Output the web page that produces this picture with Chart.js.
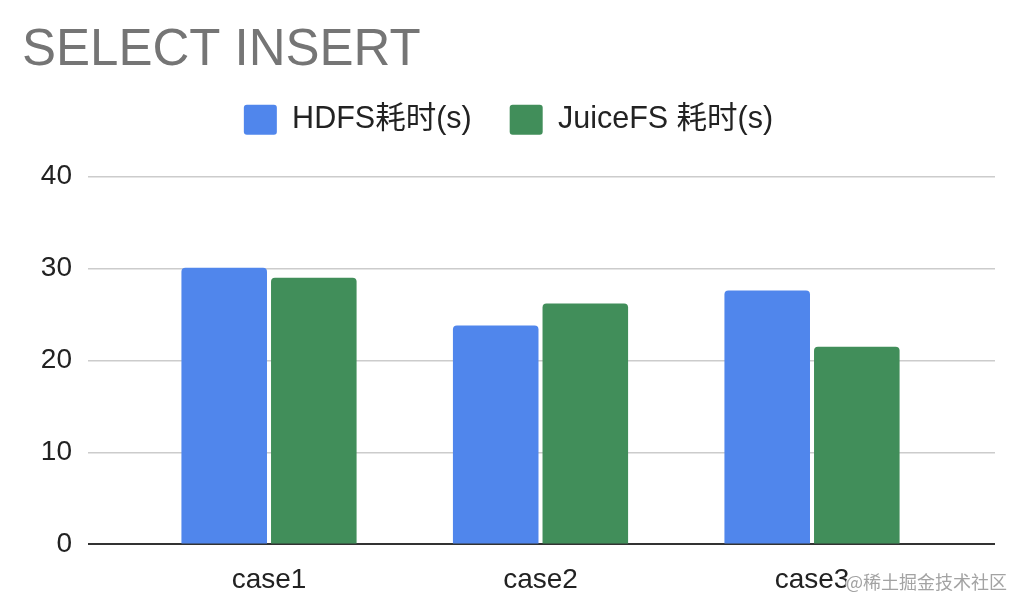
<!DOCTYPE html>
<html>
<head>
<meta charset="utf-8">
<script src="https://cdn.jsdelivr.net/npm/chart.js@4.4.1/dist/chart.umd.min.js"></script>
<style>
  html, body { margin: 0; padding: 0; background: #ffffff; }
  #wrap { width: 1026px; height: 614px; position: relative; }
</style>
</head>
<body>
<div id="wrap"><canvas id="c"></canvas></div>
<script>
const chartTitle = 'SELECT INSERT';
const categories = ['case1', 'case2', 'case3'];
const seriesNames = ['HDFS耗时(s)', 'JuiceFS 耗时(s)'];
const hdfsValues = [30.1, 23.8, 27.6];
const juicefsValues = [29.0, 26.2, 21.5];
const yTicks = [0, 10, 20, 30, 40];
const watermark = '@稀土掘金技术社区';

const FONT = '"Liberation Sans", Arial, "Noto Sans CJK SC", sans-serif';

const toPoints = (vals) => vals.map((v, i) => ({ x: i + 1, y: v }));

const legendSpacer = {
  id: 'legendSpacer',
  beforeInit(chart) {
    const origFit = chart.legend.fit;
    chart.legend.fit = function () {
      origFit.bind(chart.legend)();
      this.height += 31.5;
    };
  }
};

const watermarkPlugin = {
  id: 'watermark',
  afterDraw(chart) {
    const ctx = chart.ctx;
    ctx.save();
    ctx.font = '18px "Noto Sans CJK SC", sans-serif';
    ctx.textAlign = 'right';
    ctx.textBaseline = 'middle';
    ctx.lineWidth = 3;
    ctx.strokeStyle = 'rgba(255,255,255,0.8)';
    ctx.strokeText(watermark, 1007, 582);
    ctx.fillStyle = '#a3a3a3';
    ctx.fillText(watermark, 1007, 582);
    ctx.restore();
  }
};

new Chart(document.getElementById('c'), {
  type: 'bar',
  data: {
    datasets: [
      {
        label: seriesNames[0],
        data: toPoints(hdfsValues),
        backgroundColor: '#5086EC',
        borderRadius: 4,
        categoryPercentage: 0.66,
        barPercentage: 0.955
      },
      {
        label: seriesNames[1],
        data: toPoints(juicefsValues),
        backgroundColor: '#418E5A',
        borderRadius: 4,
        categoryPercentage: 0.66,
        barPercentage: 0.955
      }
    ]
  },
  options: {
    responsive: true,
    maintainAspectRatio: false,
    animation: false,
    devicePixelRatio: 1,
    layout: { padding: { left: 22, right: 31, top: 0, bottom: -2 } },
    plugins: {
      title: {
        display: true,
        text: chartTitle,
        align: 'start',
        color: '#757575',
        font: { family: FONT, size: 51, weight: 'normal', lineHeight: 0.6 },
        padding: { top: 36, bottom: 0 }
      },
      legend: {
        display: true,
        position: 'top',
        align: 'center',
        labels: {
          color: '#222222',
          font: { family: FONT, size: 30.5 },
          boxWidth: 33,
          boxHeight: 30,
          padding: 38,
          useBorderRadius: true,
          borderRadius: 3
        }
      },
      tooltip: { enabled: false }
    },
    scales: {
      x: {
        type: 'linear',
        offset: false,
        min: 0.3333,
        max: 3.674,
        afterBuildTicks(scale) {
          scale.ticks = categories.map((c, i) => ({ value: i + 1 }));
        },
        grid: { display: false, drawTicks: false },
        border: { display: false },
        ticks: {
          color: '#222222',
          font: { family: FONT, size: 28 },
          padding: 19,
          maxRotation: 0,
          autoSkip: false,
          callback: (v) => categories[Math.round(v) - 1] || ''
        }
      },
      y: {
        min: yTicks[0],
        max: yTicks[yTicks.length - 1],
        afterBuildTicks(scale) {
          scale.ticks = yTicks.map(v => ({ value: v }));
        },
        afterFit(scale) { scale.width = 66; },
        border: { display: false },
        grid: {
          drawTicks: false,
          color: (c) => (c.tick && c.tick.value === 0 ? '#333333' : '#cccccc'),
          lineWidth: (c) => (c.tick && c.tick.value === 0 ? 2 : 1.5)
        },
        ticks: {
          color: '#222222',
          font: { family: FONT, size: 28 },
          padding: 16
        }
      }
    }
  },
  plugins: [legendSpacer, watermarkPlugin]
});
</script>
</body>
</html>
